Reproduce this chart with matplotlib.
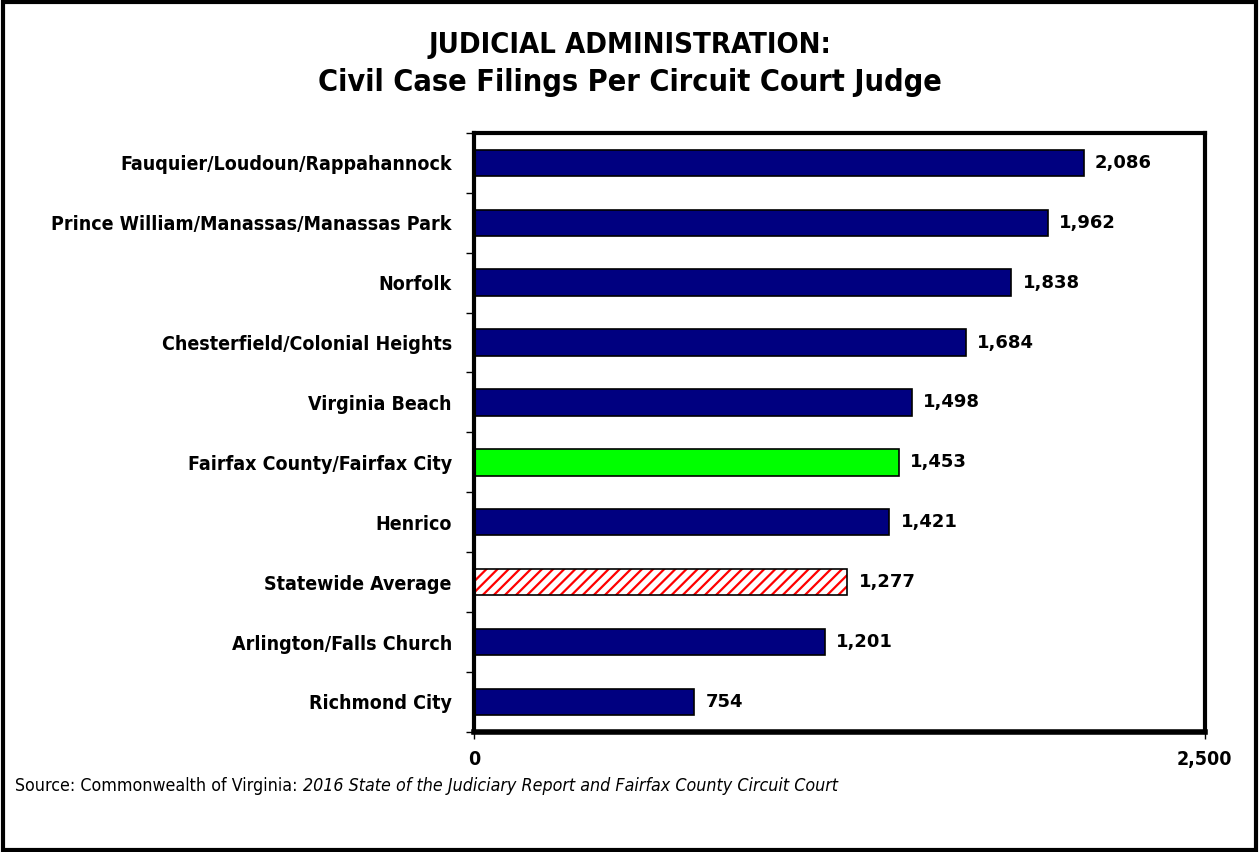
import matplotlib.pyplot as plt
import matplotlib.patches as patches

categorias = ['Fauquier/Loudoun/Rappahannock', 'Prince William/Manassas/Manassas Park',
              'Norfolk', 'Chesterfield/Colonial Heights', 'Virginia Beach',
              'Fairfax County/Fairfax City', 'Henrico', 'Statewide Average',
              'Arlington/Falls Church', 'Richmond City']
valores = [2086, 1962, 1838, 1684, 1498, 1453, 1421, 1277, 1201, 754]
tipo = ['normal', 'normal', 'normal', 'normal', 'normal', 'fairfax', 'normal',
        'promedio', 'normal', 'normal']
x_ticks = [0, 2500]

plt.rcParams['hatch.linewidth'] = 1.6
CONDENSADA = dict(family='DejaVu Sans', fontstretch='condensed')

fig = plt.figure(figsize=(12.59, 8.52), dpi=100)
ax = fig.add_axes([0.3765, 0.141, 0.5805, 0.703])

n = len(categorias)
ys = list(range(n - 1, -1, -1))
for y, v, t in zip(ys, valores, tipo):
    if t == 'promedio':
        ax.barh(y, v, height=0.44, color='white', edgecolor='red', hatch='///', lw=0)
        ax.barh(y, v, height=0.44, fill=False, edgecolor='black', lw=1.2)
    else:
        color = '#00ff00' if t == 'fairfax' else '#000080'
        ax.barh(y, v, height=0.44, color=color, edgecolor='black', lw=1.2)
    ax.text(v + 38, y, f'{v:,}', va='center', ha='left', fontsize=13,
            fontweight='bold', family='DejaVu Sans')

ax.set_xlim(0, 2500)
ax.set_ylim(-0.5, n - 0.5)
ax.set_yticks(ys)
ax.set_yticklabels(categorias, fontsize=14, fontweight='bold', **CONDENSADA)
ax.set_yticks([i - 0.5 for i in range(n + 1)], minor=True)
ax.tick_params(axis='y', which='major', length=0, pad=16)
ax.tick_params(axis='y', which='minor', length=6, width=1, direction='out')
ax.set_xticks(x_ticks)
ax.set_xticklabels([f'{x:,}' for x in x_ticks], fontsize=14, fontweight='bold', **CONDENSADA)
ax.tick_params(axis='x', length=5, width=1, pad=8)

for lado, lw in [('left', 3), ('bottom', 4), ('top', 3), ('right', 3)]:
    ax.spines[lado].set_linewidth(lw)
    ax.spines[lado].set_color('black')

fig.text(0.5, 0.947, 'JUDICIAL ADMINISTRATION:', ha='center', va='center',
         fontsize=21, fontweight='bold', **CONDENSADA)
fig.text(0.5, 0.903, 'Civil Case Filings Per Circuit Court Judge', ha='center', va='center',
         fontsize=22, fontweight='bold', **CONDENSADA)

fuente = fig.text(0.012, 0.077, 'Source: Commonwealth of Virginia: ', ha='left', va='center',
                  fontsize=12.8, **CONDENSADA)
fig.texts.append(plt.Annotation('2016 State of the Judiciary Report and Fairfax County Circuit Court',
                                xy=(1, 0.5), xycoords=fuente, ha='left', va='center',
                                fontsize=12.8, style='italic', **CONDENSADA))
fig.texts[-1].set_figure(fig)

fig.patches.append(patches.Rectangle((0.002, 0.002), 0.996, 0.996, transform=fig.transFigure,
                                     fill=False, edgecolor='black', lw=3))

fig.savefig('out.png', dpi=100)
